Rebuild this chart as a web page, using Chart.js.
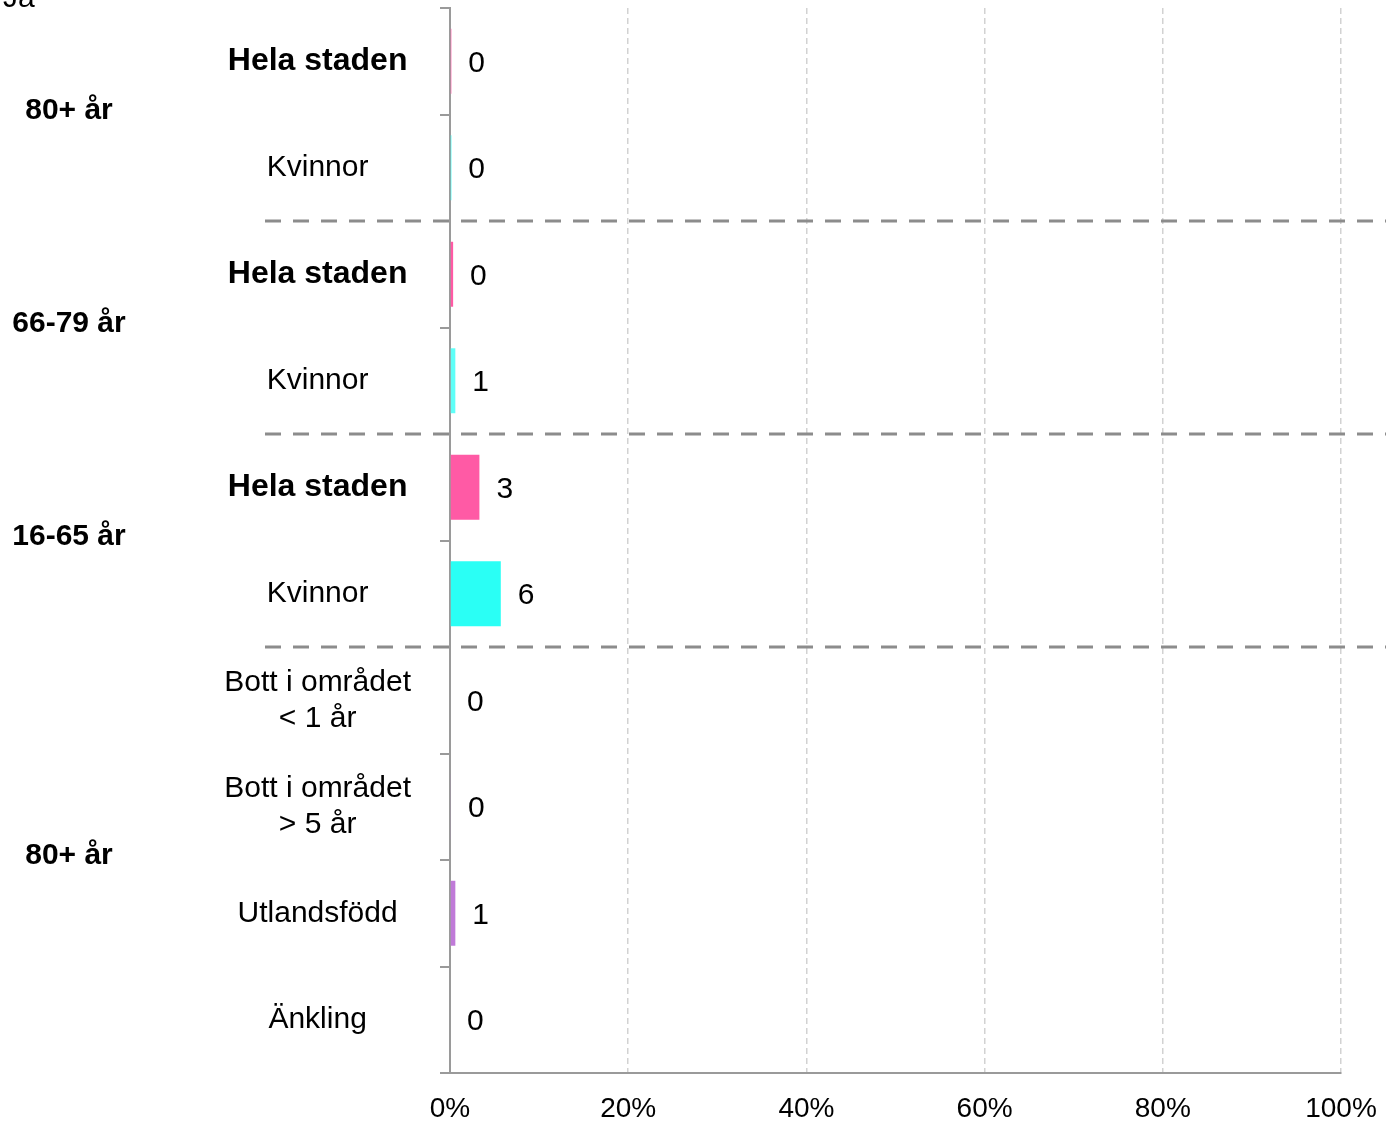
<!DOCTYPE html>
<html>
<head>
<meta charset="utf-8">
<script src="https://cdn.jsdelivr.net/npm/chart.js@4/dist/chart.umd.min.js"></script>
<style>
  body { margin: 0; background: #fff; }
  #wrap { width: 1386px; height: 1122px; position: relative; }
</style>
</head>
<body>
<div id="wrap"><canvas id="chart"></canvas></div>
<script>
const FONT = "'Liberation Sans', Arial, sans-serif";

// Data
const categories = [
  "Hela staden", "Kvinnor",
  "Hela staden", "Kvinnor",
  "Hela staden", "Kvinnor",
  ["Bott i området", "< 1 år"], ["Bott i området", "> 5 år"], "Utlandsfödd", "Änkling",
];
const values = [0.15, 0.15, 0.35, 0.6, 3.3, 5.7, 0, 0.1, 0.6, 0];
const valueLabels = [0, 0, 0, 1, 3, 6, 0, 0, 1, 0];
const barColors = [
  "#FF5AA5", "#2AFFF5", "#FF5AA5", "#5FFFF8", "#FF5AA5", "#2AFFF5",
  "#C07AD8", "#A77FC0", "#C07AD8", "#C07AD8",
];
const groupLabels = ["80+ år", "66-79 år", "16-65 år", "80+ år"];
const groupFirst = [0, 2, 4, 6];
const groupLast = [1, 3, 5, 9];
const xTicks = [0, 20, 40, 60, 80, 100];

const overlay = {
  id: "overlay",
  afterDatasetsDraw(chart) {
    const { ctx, scales: { y } } = chart;
    ctx.save();

    // value labels next to the bars
    const meta = chart.getDatasetMeta(0);
    ctx.font = `30px ${FONT}`;
    ctx.fillStyle = "#000";
    ctx.textAlign = "left";
    ctx.textBaseline = "middle";
    meta.data.forEach((bar, i) => {
      ctx.fillText(String(valueLabels[i]), bar.x + 17, bar.y + 2);
    });

    // dashed separators between the age groups
    ctx.strokeStyle = "#8c8c8c";
    ctx.lineWidth = 3;
    ctx.setLineDash([16, 12]);
    for (let g = 0; g < groupLast.length - 1; g++) {
      const yy = Math.round(
        (y.getPixelForValue(groupLast[g]) + y.getPixelForValue(groupLast[g] + 1)) / 2,
      );
      ctx.beginPath();
      ctx.moveTo(265, yy);
      ctx.lineTo(chart.width, yy);
      ctx.stroke();
    }
    ctx.setLineDash([]);

    // outer group labels
    ctx.font = `bold 30px ${FONT}`;
    ctx.textAlign = "center";
    groupLabels.forEach((label, g) => {
      const mid = (y.getPixelForValue(groupFirst[g]) + y.getPixelForValue(groupLast[g])) / 2;
      ctx.fillText(label, 69, mid - 4);
    });

    // title, cut off at the top edge
    ctx.font = `30px ${FONT}`;
    ctx.textAlign = "left";
    ctx.textBaseline = "alphabetic";
    ctx.fillText("Ja", 3, 7);
    ctx.restore();
  },
};

new Chart(document.getElementById("chart"), {
  type: "bar",
  data: {
    labels: categories,
    datasets: [
      {
        data: values,
        backgroundColor: barColors,
        borderWidth: 0,
        barPercentage: 0.61,
        categoryPercentage: 1,
      },
    ],
  },
  options: {
    indexAxis: "y",
    responsive: true,
    maintainAspectRatio: false,
    animation: false,
    layout: { padding: { top: 8, right: 45, left: 0, bottom: 0 } },
    plugins: {
      legend: { display: false },
      tooltip: { enabled: false },
    },
    scales: {
      x: {
        min: 0,
        max: 100,
        afterBuildTicks: (scale) => {
          scale.ticks = xTicks.map((v) => ({ value: v }));
        },
        afterFit: (scale) => {
          scale.height = 49;
          scale.paddingLeft = 0;
          scale.paddingRight = 0;
        },
        ticks: {
          callback: (v) => v + "%",
          font: { family: FONT, size: 28 },
          color: "#000",
          padding: 19,
          maxRotation: 0,
        },
        grid: {
          color: (c) => (c.index === 0 ? "rgba(0,0,0,0)" : "#d2d2d2"),
          lineWidth: 1.5,
          drawTicks: false,
        },
        border: { color: "#9a9a9a", width: 2, dash: [6, 4] },
      },
      y: {
        afterFit: (scale) => {
          scale.width = 450;
          scale.paddingTop = 0;
          scale.paddingBottom = 0;
        },
        ticks: {
          crossAlign: "center",
          padding: 29,
          color: "#000",
          font: (c) => {
            const bold = categories[c.index] === "Hela staden";
            return { family: FONT, size: bold ? 32 : 30, weight: bold ? "bold" : "normal" };
          },
        },
        grid: {
          offset: true,
          drawOnChartArea: false,
          tickLength: 10,
          color: "#9a9a9a",
          lineWidth: 2,
        },
        border: { color: "#9a9a9a", width: 2 },
      },
    },
  },
  plugins: [overlay],
});
</script>
</body>
</html>
